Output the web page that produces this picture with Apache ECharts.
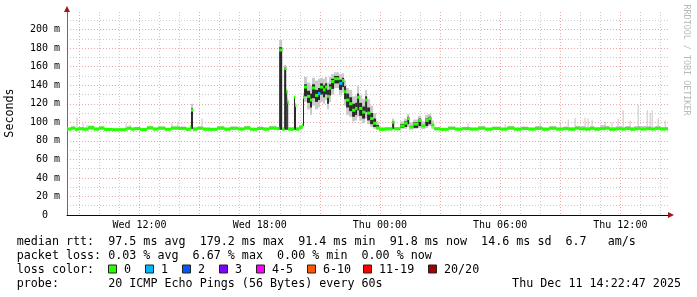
<!DOCTYPE html>
<html><head><meta charset="utf-8">
<script src="https://cdn.jsdelivr.net/npm/echarts@6/dist/echarts.min.js"></script>
<style>html,body{margin:0;padding:0;background:#fff}#c{width:697px;height:297px}</style>
</head><body><div id="c"></div>
<script>
const _ = null;
// time in hours since Wed 00:00 (segment start), each segment lasts until next
const T_START = 8.3797, T_END = 38.3797;
const T = [
8.38,8.58,8.78,8.93,9.18,9.43,9.73,9.98,10.23,10.63,
11.28,11.38,11.58,11.73,12.03,12.37,12.67,12.92,13.27,13.57,
13.92,14.32,14.52,14.57,14.67,14.87,15.17,15.52,15.87,16.22,
16.52,16.92,17.22,17.52,17.87,18.17,18.47,18.82,18.97,19.12,
19.22,19.32,19.37,19.42,19.71,19.76,19.81,19.96,20.11,20.16,
20.21,20.36,20.51,20.61,20.76,20.91,21.01,21.16,21.26,21.36,
21.46,21.56,21.71,21.96,22.11,22.21,22.31,22.46,22.61,22.76,
22.86,22.96,23.11,23.26,23.36,23.51,23.66,23.81,23.96,24.26,
24.61,24.71,25.01,25.21,25.36,25.46,25.66,25.91,26.06,26.26,
26.41,26.56,26.70,27.00,27.40,27.75,28.10,28.50,28.90,29.25,
29.60,30.00,30.35,30.70,31.05,31.40,31.75,32.10,32.45,32.80,
33.15,33.40,33.74,33.94,34.24,34.49,34.69,34.99,35.24,35.44,
35.79,36.09,36.24,36.49,36.69,36.89,36.99,37.29,37.54,37.74,
37.99,38.24];
// median rtt (ms)
const MED = [
92.6,93.8,92.4,93.0,92.5,94.2,92.6,93.9,92.3,92.0,
92.5,93.6,92.5,93.2,92.2,94.0,92.6,93.7,92.4,93.8,
93.4,92.4,94.5,113,92.5,93.6,92.5,92.4,93.8,92.5,
93.5,92.7,93.9,92.5,93.3,92.6,93.8,93.2,178,92.5,
158,133,122,92.5,127,118,92.5,94.5,96,127,
138,128,124,137,129,131,138,135,138,128,
137,144,147,142,145,133,124,120,113,115,
127,115,111,124,110,104,99,94,92.3,92.8,
100,93.0,96,99,104,95,98,102,96,102,
104,97,93.0,92.4,93.6,92.5,93.2,92.6,93.7,92.5,
93.4,92.6,93.8,92.5,93.3,92.6,93.5,92.5,93.6,92.6,
93.2,92.5,93.8,93.0,92.6,93.5,92.6,93.2,93.8,92.5,
93.0,92.6,93.4,92.5,93.0,93.6,92.7,93.2,92.6,93.5,
92.7,93.0];
// smoke: min / max of pings
const LO = [
91.5,92,91.5,91.5,91.5,92,91.5,92,91.3,91,
91.3,92,91.5,92,91.3,92.5,91.5,92,91.3,92,
92,91.3,92,92,91.3,92,91.3,91.3,92,91.3,
92,91.5,92,91.3,92,91.3,92,92,92,91.5,
92,92,92,91.5,92,92,91.5,92.5,93,96,
122,114,108,118,114,116,122,120,124,114,
122,130,137,129,132,118,108,106,101,102,
106,102,99,104,98,95,93,92,91.3,91.5,
92,91.5,93,93,95,92,93,94,92.5,94,
96,93,91.5,91.3,92,91.3,92,91.5,92,91.3,
92,91.5,92,91.3,92,91.5,92,91.3,92,91.5,
92,91.3,92,91.5,91.5,92,91.5,92,92,91.3,
91.5,91.5,92,91.3,91.5,92,91.5,92,91.5,92,
91.5,91.5];
const HI = [
94.5,95.5,94,95,94.5,96.5,94.5,95.5,94,93.5,
94.5,95.5,94.5,95,94,96,94.5,95.5,94,95.5,
95.5,94.5,97,120,95,95.5,94.5,94,96,94.5,
95.5,94.5,96,94,95.5,94.5,96,95,189,95,
162,136,126,95,129,121,95,97,99,132,
149,143,139,148,145,147,148,147,149,143,
149,152,154,152,153,145,137,135,128,129,
139,129,125,135,125,118,110,101,95,95,
104,95,101,104,109,100,103,107,101,108,
109,102,95,94,95.5,94.5,95,94.5,96,94.5,
95.5,94.5,96,94.5,95.5,94.5,96,94.5,96,94.5,
95.5,95,96,96,95,96,95,97,96,95,
96,95,96,95,96,96,96,96,95,96,
95,95];
// dense (dark) smoke core
const DLO = [
_,_,_,_,_,_,_,_,_,_,
_,_,_,_,_,_,_,_,_,_,
_,_,_,93,_,_,_,_,_,_,
_,_,_,_,_,_,_,_,92,_,
92,92,92,_,92,92,_,_,_,96,
128,121,116,126,122,124,130,127,130,120,
129,136,142,135,138,125,116,112,106,108,
113,107,104,111,102,98,95,93,_,_,
93,_,94,95,98,_,94,96,_,96,
98];
const DHI = [
_,_,_,_,_,_,_,_,_,_,
_,_,_,_,_,_,_,_,_,_,
_,_,_,115,_,_,_,_,_,_,
_,_,_,_,_,_,_,_,181,_,
159,134,123,_,127,118,_,_,_,128,
141,134,131,141,135,137,142,140,142,135,
141,147,150,146,148,139,131,127,120,121,
131,121,117,128,116,110,104,97,_,_,
101,_,98,101,106,_,100,104,_,104,
106];
// loss class index per segment (0 = no loss)
const LOSS = [
0,0,0,0,0,0,0,0,0,0, 0,0,0,0,0,0,0,0,0,0,
0,0,0,0,0,0,0,0,0,0, 0,0,0,0,0,0,0,0,0,0,
0,0,0,0,0,0,0,0,0,0, 0,0,0,0,0,1,0,0,0,0,
0,0,0,1,0,0,0,0,0,0];
// isolated smoke peaks on the baseline
const PEAK_T = [8.88,9.18,9.38,11.33,11.53,13.62,13.92,15.12,28.40,30.25,32.00,33.00,33.40,33.74,34.24,34.39,34.59,35.24,35.59,35.89,36.14,36.49,36.89,37.34,37.49,37.59,37.89,38.24];
const PEAK_V = [105,99,97,99,97,99,101,104,99,98,99,100,103,105,105,104,103,101,100,104,113,102,119,113,110,113,104,102];
const PEAK_BASE = 92.5;

const Y_MAJOR = [0,20,40,60,80,100,120,140,160,180,200];
const Y_MINOR = [10,30,50,70,90,110,130,150,170,190,210];
const X_MAJOR = [9,12,15,18,21,24,27,30,33,36];
const X_MINOR = [9,10,11,12,13,14,15,16,17,18,19,20,21,22,23,24,25,26,27,28,29,30,31,32,33,34,35,36,37,38];
const X_LABELS = [12,18,24,30,36];
const LOSS_COLORS = ['#26ff00','#00b8ff','#0059ff','#7e00ff','#ff00ff','#ff5500','#ff0000','#a00000'];
const LOSS_LABELS = ['0','1','2','3','4-5','6-10','11-19','20/20'];
const STAT_LINES = [
 'median rtt:  97.5 ms avg  179.2 ms max  91.4 ms min  91.8 ms now  14.6 ms sd  6.7   am/s',
 'packet loss: 0.03 % avg  6.67 % max  0.00 % min  0.00 % now'
];
const LOSS_TITLE = 'loss color:';
const PROBE_LINE = 'probe:       20 ICMP Echo Pings (56 Bytes) every 60s';
const DATE_TEXT = 'Thu Dec 11 14:22:47 2025';
const Y_TITLE = 'Seconds';
const WATERMARK = 'RRDTOOL / TOBI OETIKER';

const MONO = '"DejaVu Sans Mono", monospace';
const endOf = i => (i + 1 < T.length ? T[i + 1] : T_END);

const smokeData = T.map((t, i) => [t, endOf(i), LO[i], HI[i]]);
const darkData = [];
T.forEach((t, i) => { if (DLO[i] != null) darkData.push([t, endOf(i), DLO[i], DHI[i]]); });
const medData = T.map((t, i) => [t, endOf(i), MED[i], LOSS[i] || 0]);
const peakData = PEAK_T.map((t, i) => [t, PEAK_BASE, PEAK_V[i]]);

function bandRender(fill) {
  return function (params, api) {
    const a = api.coord([api.value(0), api.value(3)]);
    const b = api.coord([api.value(1), api.value(2)]);
    return {type: 'rect', shape: {x: a[0], y: a[1], width: Math.max(1, b[0] - a[0]), height: Math.max(1, b[1] - a[1])},
      style: {fill: fill}};
  };
}
function medRender(params, api) {
  const a = api.coord([api.value(0), api.value(2)]);
  const b = api.coord([api.value(1), api.value(2)]);
  return {type: 'rect', shape: {x: a[0], y: a[1] - 1.5, width: Math.max(1, b[0] - a[0]) + 0.4, height: 3},
    style: {fill: LOSS_COLORS[api.value(3)]}};
}
function peakRender(params, api) {
  const a = api.coord([api.value(0), api.value(2)]);
  const b = api.coord([api.value(0), api.value(1)]);
  return {type: 'rect', shape: {x: a[0] - 0.5, y: a[1], width: 1, height: b[1] - a[1]}, style: {fill: '#c6c6c6'}};
}

const chart = echarts.init(document.getElementById('c'), null, {renderer: 'canvas'});
const gridLineMinor = {show: true, lineStyle: {color: '#cbcbcb', type: [1, 2], width: 1}};
const gridLineMajor = {show: true, lineStyle: {color: '#eaa8a8', type: [1, 2], width: 1}};

const graphics = [
  {type: 'text', x: 10, y: 113, rotation: Math.PI / 2,
   style: {text: Y_TITLE, fontFamily: MONO, fontSize: 11.7, fill: '#000', align: 'center', verticalAlign: 'middle'}},
  {type: 'text', x: 686, y: 60, rotation: -Math.PI / 2,
   style: {text: WATERMARK, fontFamily: MONO, fontSize: 8.4, fill: '#b8b8b8', align: 'center', verticalAlign: 'middle'}},
];
const lineY = [241.5, 255.5, 269.5, 283.5];
const textX = 16.7;
STAT_LINES.forEach((s, k) => graphics.push({type: 'text', x: textX, y: lineY[k],
  style: {text: s, fontFamily: MONO, fontSize: 11.7, fill: '#000', align: 'left', verticalAlign: 'middle'}}));
graphics.push({type: 'text', x: textX, y: lineY[2],
  style: {text: LOSS_TITLE, fontFamily: MONO, fontSize: 11.7, fill: '#000', align: 'left', verticalAlign: 'middle'}});
const boxX = [108.5, 145.5, 182.5, 219.5, 256.5, 307.5, 363.5, 428.5];
LOSS_COLORS.forEach((c, k) => {
  graphics.push({type: 'rect', shape: {x: boxX[k], y: lineY[2] - 4.5, width: 8, height: 8},
    style: {fill: c, stroke: '#222', lineWidth: 1}});
  graphics.push({type: 'text', x: boxX[k] + 15.5, y: lineY[2],
    style: {text: LOSS_LABELS[k], fontFamily: MONO, fontSize: 11.7, fill: '#000', align: 'left', verticalAlign: 'middle'}});
});
graphics.push({type: 'text', x: textX, y: lineY[3],
  style: {text: PROBE_LINE, fontFamily: MONO, fontSize: 11.7, fill: '#000', align: 'left', verticalAlign: 'middle'}});
graphics.push({type: 'text', x: 681, y: lineY[3],
  style: {text: DATE_TEXT, fontFamily: MONO, fontSize: 11.7, fill: '#000', align: 'right', verticalAlign: 'middle'}});

const xBase = {type: 'value', min: T_START, max: T_END, position: 'bottom'};
const yBase = {type: 'value', min: 0, max: 219, position: 'left'};

chart.setOption({
  animation: false,
  backgroundColor: '#ffffff',
  grid: {left: 67, right: 29, top: 12, bottom: 82, containLabel: false, outerBoundsMode: 'none'},
  xAxis: [
    Object.assign({}, xBase, {
      axisLine: {show: true, lineStyle: {color: '#0a0a0a', width: 1}},
      axisTick: {show: false, customValues: X_MINOR},
      axisLabel: {show: false},
      splitLine: gridLineMinor
    }),
    Object.assign({}, xBase, {
      axisLine: {show: true, symbol: ['none', 'triangle'], symbolSize: [6, 6], symbolOffset: [0, 3],
        lineStyle: {color: '#a31515', width: 0}},
      axisTick: {show: false, customValues: X_MAJOR},
      axisLabel: {show: true, customValues: X_LABELS, margin: 5, color: '#000', fontFamily: MONO, fontSize: 10,
        formatter: v => (v < 24 ? 'Wed ' : 'Thu ') + String(Math.round(v) % 24).padStart(2, '0') + ':00'},
      splitLine: gridLineMajor
    })
  ],
  yAxis: [
    Object.assign({}, yBase, {
      axisLine: {show: true, lineStyle: {color: '#6a6a6a', width: 1}},
      axisTick: {show: false, customValues: Y_MINOR},
      axisLabel: {show: false},
      splitLine: gridLineMinor
    }),
    Object.assign({}, yBase, {
      axisLine: {show: true, symbol: ['none', 'triangle'], symbolSize: [6, 6], symbolOffset: [0, 3],
        lineStyle: {color: '#a31515', width: 0}},
      axisTick: {show: false, customValues: Y_MAJOR},
      axisLabel: {show: true, customValues: Y_MAJOR, margin: 7, color: '#000', fontFamily: MONO, fontSize: 10,
        formatter: v => (v === 0 ? '0  ' : v + ' m')},
      splitLine: gridLineMajor
    })
  ],
  series: [
    {type: 'custom', name: 'smoke', xAxisIndex: 1, yAxisIndex: 1, z: 2, clip: true, silent: true,
     renderItem: bandRender('#cacaca'), encode: {x: [0, 1], y: [2, 3]}, data: smokeData},
    {type: 'custom', name: 'peaks', xAxisIndex: 1, yAxisIndex: 1, z: 2, clip: true, silent: true,
     renderItem: peakRender, encode: {x: 0, y: [1, 2]}, data: peakData},
    {type: 'custom', name: 'dense', xAxisIndex: 1, yAxisIndex: 1, z: 3, clip: true, silent: true,
     renderItem: bandRender('#2a2a2a'), encode: {x: [0, 1], y: [2, 3]}, data: darkData},
    {type: 'custom', name: 'median', xAxisIndex: 1, yAxisIndex: 1, z: 4, clip: true, silent: true,
     renderItem: medRender, encode: {x: [0, 1], y: 2}, data: medData}
  ],
  graphic: {elements: graphics}
});
</script></body></html>
